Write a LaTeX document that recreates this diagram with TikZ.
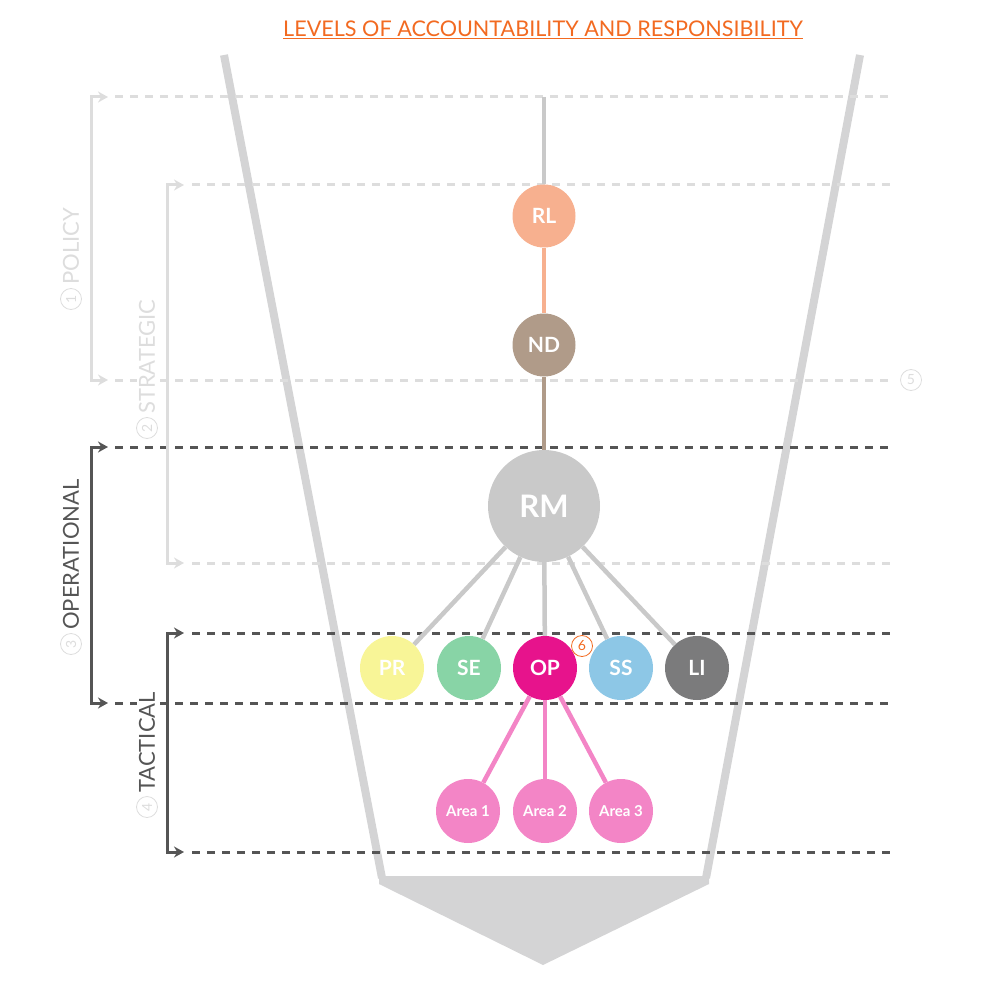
\documentclass[tikz,border=0pt]{standalone}
\usepackage{fontspec}
\setmainfont{Lato}
\usetikzlibrary{arrows.meta}
\definecolor{wallc}{HTML}{D4D4D5}
\definecolor{lightc}{HTML}{DDDDDD}
\definecolor{darkc}{HTML}{555555}
\definecolor{titlec}{HTML}{F26A21}
\definecolor{rlc}{HTML}{F7B08F}
\definecolor{ndc}{HTML}{B09B89}
\definecolor{rmc}{HTML}{C9C9C9}
\definecolor{prc}{HTML}{F8F597}
\definecolor{sec}{HTML}{88D4A6}
\definecolor{opc}{HTML}{E7138C}
\definecolor{ssc}{HTML}{8DC7E6}
\definecolor{lic}{HTML}{7B7B7C}
\definecolor{areac}{HTML}{F385C6}
\begin{document}
\begin{tikzpicture}[x=1pt,y=-1pt,
  wall/.style={draw=wallc,line width=8pt},
  lvl/.style={line width=3pt,dash pattern=on 8pt off 7pt},
  lightlvl/.style={lvl,draw=lightc},
  darklvl/.style={lvl,draw=darkc},
  brack/.style={line width=3pt,{Stealth[length=10pt,width=11pt]}-{Stealth[length=10pt,width=11pt]}},
  orb/.style={circle,inner sep=0pt,text=white,font=\fontsize{21}{23}\selectfont\bfseries,minimum size=63pt},
  orbsmall/.style={orb,font=\fontsize{15}{17}\selectfont\bfseries,minimum size=64pt},
  lbl/.style={rotate=90,font=\fontsize{22}{24}\selectfont,fill=white,inner sep=2pt},
  num/.style={circle,draw,line width=0.8pt,inner sep=0pt,minimum size=21pt,font=\fontsize{14}{15}\selectfont},
  edge/.style={line width=4.5pt}
]
\useasboundingbox (0,0) rectangle (1000,1000);
% title
\node[text=titlec,font=\fontsize{21.6}{25}\selectfont] (title) at (543,30) {\underline{LEVELS OF ACCOUNTABILITY AND RESPONSIBILITY}};
% funnel
\draw[wall] (224,55) -- (382,878);
\draw[wall] (860,55) -- (706,878);
\fill[wallc] (379,876) -- (709,876) -- (709,884) -- (543,965) -- (379,884) -- cycle;
% level lines
\draw[lightlvl] (115,97) -- (890,97);
\draw[lightlvl] (192,185) -- (890,185);
\draw[lightlvl] (115,380) -- (890,380);
\draw[lightlvl] (192,563) -- (890,563);
\draw[darklvl] (115,447) -- (890,447);
\draw[darklvl] (192,633) -- (890,633);
\draw[darklvl] (115,703) -- (890,703);
\draw[darklvl] (192,852) -- (890,852);
% brackets
\draw[brack,draw=lightc] (108,97) -- (91,97) -- (91,380) -- (108,380);
\draw[brack,draw=lightc] (184,185) -- (167,185) -- (167,563) -- (184,563);
\draw[brack,draw=darkc] (108,447) -- (91,447) -- (91,703) -- (108,703);
\draw[brack,draw=darkc] (184,633) -- (167,633) -- (167,852) -- (184,852);
% labels
\node[lbl,text=lightc,anchor=west] (policy) at (71,287) {POLICY};
\node[num,rotate=90,draw=lightc,text=lightc] (n1) at (71,299) {1};
\node[lbl,text=lightc,anchor=west] (strategic) at (147,416) {STRATEGIC};
\node[num,rotate=90,draw=lightc,text=lightc] (n2) at (147,428) {2};
\node[lbl,text=darkc,anchor=west] (operational) at (71,632) {OPERATIONAL};
\node[num,rotate=90,draw=lightc,text=lightc] (n3) at (71,644) {3};
\node[lbl,text=darkc,anchor=west] (tactical) at (147,795) {TACTICAL};
\node[num,rotate=90,draw=lightc,text=lightc] (n4) at (147,807) {4};
\node[num,draw=lightc,text=lightc] (n5) at (911,380) {5};
% nodes
\coordinate (top) at (544,97);
\node[orb,fill=rlc] (RL) at (544,216) {RL};
\node[orb,fill=ndc] (ND) at (544,345) {ND};
\node[orb,fill=rmc,minimum size=112pt,font=\fontsize{31}{33}\selectfont\bfseries] (RM) at (544,506) {RM};
\node[orb,fill=prc,minimum size=64pt] (PR) at (392,668) {PR};
\node[orb,fill=sec,minimum size=64pt] (SE) at (469,668) {SE};
\node[orb,fill=opc,minimum size=64pt] (OP) at (545,668) {OP};
\node[orb,fill=ssc,minimum size=64pt] (SS) at (621,668) {SS};
\node[orb,fill=lic,minimum size=64pt] (LI) at (697,668) {LI};
\node[orbsmall,fill=areac] (A1) at (468,811) {Area 1};
\node[orbsmall,fill=areac] (A2) at (545,811) {Area 2};
\node[orbsmall,fill=areac] (A3) at (621,811) {Area 3};
\node[num,draw=titlec,text=titlec] (n6) at (582,646) {6};
% edges
\draw[rmc,line width=4pt] (top) -- (RL);
\draw[rlc,line width=4pt] (RL) -- (ND);
\draw[ndc,line width=4pt] (ND) -- (RM);
\foreach \c in {PR,SE,OP,SS,LI}{\draw[rmc,edge] (RM) -- (\c);}
\foreach \c in {A1,A2,A3}{\draw[areac,edge] (OP) -- (\c);}
\end{tikzpicture}
\end{document}
